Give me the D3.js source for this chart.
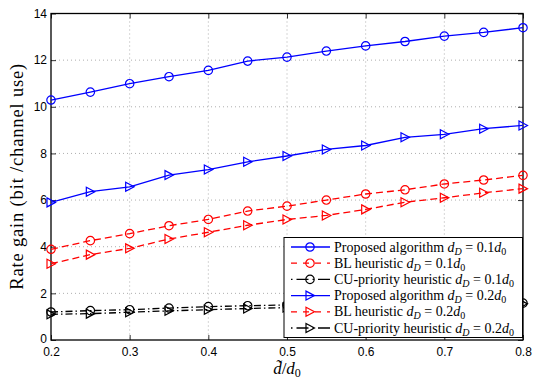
<!DOCTYPE html>
<html>
<head>
<meta charset="utf-8">
<script src="https://cdn.jsdelivr.net/npm/d3@7"></script>
<style>
  body { margin: 0; background: #fff; }
  .tick text { font-family: "Liberation Sans", Arial, sans-serif; font-size: 12px; fill: #000; }
</style>
</head>
<body>
<div id="chart"></div>
<script>
// data
var xs = [0.2, 0.25, 0.3, 0.35, 0.4, 0.45, 0.5, 0.55, 0.6, 0.65, 0.7, 0.75, 0.8];
var propD1 = [10.29, 10.63, 10.99, 11.29, 11.56, 11.96, 12.13, 12.39, 12.61, 12.80, 13.03, 13.19, 13.39];
var blD1   = [3.89, 4.26, 4.56, 4.90, 5.17, 5.53, 5.74, 6.00, 6.26, 6.44, 6.69, 6.86, 7.06];
var cuD1   = [1.20, 1.26, 1.30, 1.37, 1.43, 1.47, 1.50, 1.52, 1.54, 1.55, 1.56, 1.57, 1.58];
var propD2 = [5.90, 6.36, 6.57, 7.07, 7.31, 7.64, 7.89, 8.17, 8.34, 8.69, 8.82, 9.06, 9.20];
var blD2   = [3.27, 3.66, 3.93, 4.33, 4.62, 4.92, 5.17, 5.34, 5.60, 5.91, 6.10, 6.31, 6.49];
var cuD2   = [1.10, 1.13, 1.19, 1.25, 1.30, 1.35, 1.39, 1.42, 1.45, 1.48, 1.50, 1.53, 1.55];
var xTicks = [0.2, 0.3, 0.4, 0.5, 0.6, 0.7, 0.8];
var yTicks = [0, 2, 4, 6, 8, 10, 12, 14];

var series = [
  {name: "Proposed algorithm ", dd: "0.1", vals: propD1, color: "#0000ff", dash: null, marker: "circle"},
  {name: "BL heuristic ", dd: "0.1", vals: blD1, color: "#ff0000", dash: "7,4", marker: "circle"},
  {name: "CU-priority heuristic ", dd: "0.1", vals: cuD1, color: "#000", dash: "7,3,1.5,3", marker: "circle"},
  {name: "Proposed algorithm ", dd: "0.2", vals: propD2, color: "#0000ff", dash: null, marker: "tri"},
  {name: "BL heuristic ", dd: "0.2", vals: blD2, color: "#ff0000", dash: "7,4", marker: "tri"},
  {name: "CU-priority heuristic ", dd: "0.2", vals: cuD2, color: "#000", dash: "7,3,1.5,3", marker: "tri"}
];

var outerWidth = 534, outerHeight = 381;
var margin = {top: 13.5, right: 11, bottom: 41, left: 51};
var width = outerWidth - margin.left - margin.right,
    height = outerHeight - margin.top - margin.bottom;

var svg = d3.select("#chart").append("svg")
    .attr("width", outerWidth)
    .attr("height", outerHeight);

var g = svg.append("g")
    .attr("transform", "translate(" + margin.left + "," + margin.top + ")");

var x = d3.scaleLinear().domain([0.2, 0.8]).range([0, width]);
var y = d3.scaleLinear().domain([0, 14]).range([height, 0]);

// grid
g.append("g").selectAll("line.gx")
    .data(xTicks.slice(1, -1))
    .enter().append("line")
    .attr("x1", function(d) { return x(d); })
    .attr("x2", function(d) { return x(d); })
    .attr("y1", 0).attr("y2", height)
    .style("stroke", "#999").style("stroke-width", 0.8).style("stroke-dasharray", "1,3");
g.append("g").selectAll("line.gy")
    .data(yTicks.slice(1, -1))
    .enter().append("line")
    .attr("y1", function(d) { return y(d); })
    .attr("y2", function(d) { return y(d); })
    .attr("x1", 0).attr("x2", width)
    .style("stroke", "#999").style("stroke-width", 0.8).style("stroke-dasharray", "1,3");

// axes
g.append("g")
    .attr("transform", "translate(0," + height + ")")
    .call(d3.axisBottom(x).tickValues(xTicks).tickSizeInner(-5).tickSizeOuter(0).tickPadding(7)
      .tickFormat(d3.format(".1f")));
g.append("g")
    .call(d3.axisLeft(y).tickValues(yTicks).tickSizeInner(-5).tickSizeOuter(0).tickPadding(4));
g.append("g")
    .call(d3.axisTop(x).tickValues(xTicks).tickSizeInner(-5).tickSizeOuter(0).tickFormat(""));
g.append("g")
    .attr("transform", "translate(" + width + ",0)")
    .call(d3.axisRight(y).tickValues(yTicks).tickSizeInner(-5).tickSizeOuter(0).tickFormat(""));
g.selectAll(".domain").remove();
g.selectAll(".tick line").style("stroke", "#000").style("stroke-width", 0.8);
// y "0" label sits a touch higher, like the reference
g.selectAll(".tick text").filter(function(d) { return d === 0; }).attr("dy", "0.2em");

g.append("rect")
    .attr("width", width).attr("height", height)
    .style("fill", "none").style("stroke", "#000").style("stroke-width", 1.3);

// lines and markers
var line = d3.line()
    .x(function(d, i) { return x(xs[i]); })
    .y(function(d) { return y(d); });

function drawMarker(sel, type, color) {
  if (type === "circle") {
    sel.append("circle").attr("r", 4.2)
      .style("fill", "none").style("stroke", color).style("stroke-width", 1.2);
  } else {
    sel.append("path").attr("d", "M-4,-4.5L4.5,0L-4,4.5Z")
      .style("fill", "none").style("stroke", color).style("stroke-width", 1.2);
  }
}

var plot = g.append("g");
series.forEach(function(s) {
  plot.append("path")
    .datum(s.vals)
    .attr("d", line)
    .style("fill", "none")
    .style("stroke", s.color)
    .style("stroke-width", 1.3)
    .style("stroke-dasharray", s.dash);
  plot.selectAll(null)
    .data(s.vals)
    .enter().append("g")
    .attr("transform", function(d, i) { return "translate(" + x(xs[i]) + "," + y(d) + ")"; })
    .each(function() { drawMarker(d3.select(this), s.marker, s.color); });
});

// legend
var lx = 284, ly = 237.5, lw = 238.5, lh = 100, rowH = 16.2;
var legend = svg.append("g").attr("transform", "translate(" + lx + "," + ly + ")");
legend.append("rect").attr("width", lw).attr("height", lh)
    .style("fill", "#fff").style("stroke", "#000").style("stroke-width", 1);

series.forEach(function(s, i) {
  var row = legend.append("g").attr("transform", "translate(0," + (9.5 + i * rowH) + ")");
  row.append("line").attr("x1", 7).attr("x2", 46).attr("y1", 0).attr("y2", 0)
    .style("stroke", s.color).style("stroke-width", 1.3)
    .style("stroke-dasharray", s.dash ? (s.dash === "7,4" ? "6,6" : "1.5,4,12,4") : null);
  var m = row.append("g").attr("transform", "translate(26,0)");
  drawMarker(m, s.marker, s.color);
  var t = row.append("text").attr("x", 50).attr("y", 4.5)
    .style("font-family", "'Liberation Serif', 'Times New Roman', serif")
    .style("font-size", "14px");
  t.append("tspan").text(s.name);
  t.append("tspan").style("font-style", "italic").text("d");
  t.append("tspan").attr("dy", 3).style("font-style", "italic").style("font-size", "10px").text("D");
  t.append("tspan").attr("dy", -3).text(" = " + s.dd);
  t.append("tspan").style("font-style", "italic").text("d");
  t.append("tspan").attr("dy", 3).style("font-size", "10px").text("0");
});

// axis labels
svg.append("text")
    .attr("transform", "translate(23," + (margin.top + height / 2) + ") rotate(-90)")
    .attr("text-anchor", "middle")
    .attr("textLength", 226)
    .attr("lengthAdjust", "spacing")
    .style("font-family", "'Liberation Serif', 'Times New Roman', serif")
    .style("font-size", "18.5px")
    .text("Rate gain (bit /channel use)");

var xl = svg.append("text")
    .attr("x", margin.left + width / 2).attr("y", 374)
    .attr("text-anchor", "middle")
    .style("font-family", "'Liberation Serif', 'Times New Roman', serif")
    .style("font-size", "17px");
xl.append("tspan").style("font-style", "italic").text("d\u0303");
xl.append("tspan").text("/");
xl.append("tspan").style("font-style", "italic").text("d");
xl.append("tspan").attr("dy", 2.5).style("font-size", "12px").text("0");
</script>
</body>
</html>
